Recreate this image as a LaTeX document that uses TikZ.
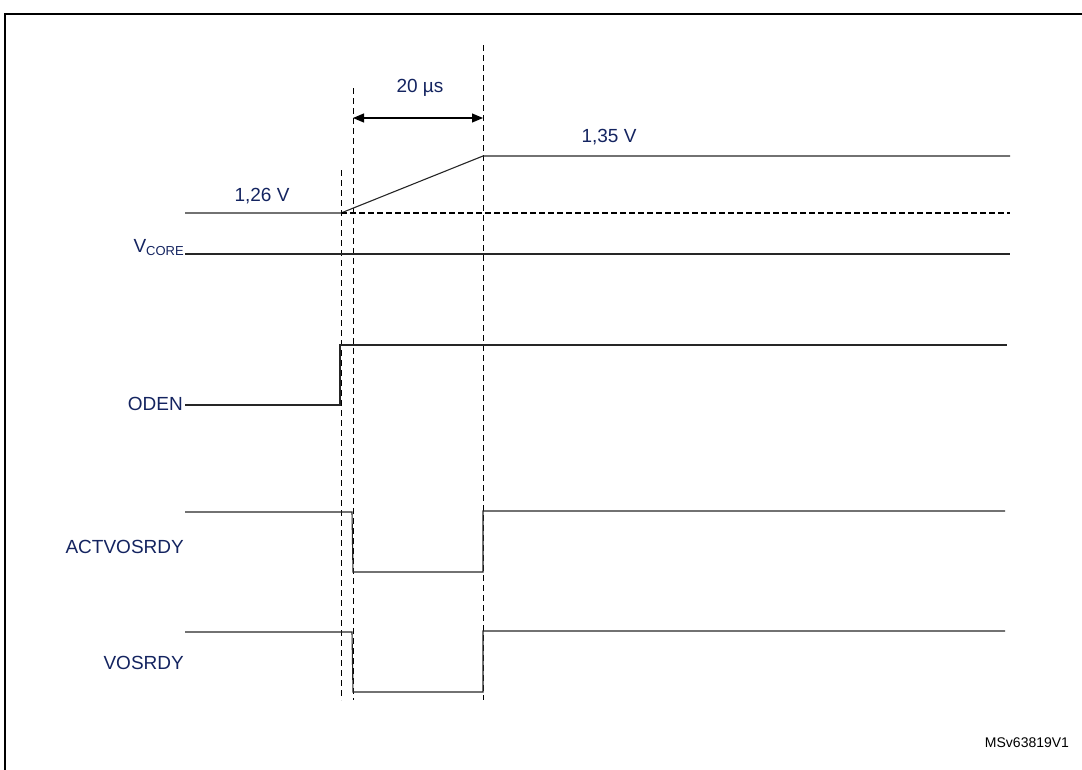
\documentclass[tikz,border=0pt]{standalone}
\usepackage{fontspec}
\setmainfont{Liberation Sans}
\usetikzlibrary{arrows.meta}
\definecolor{lbl}{RGB}{20,36,96}
\begin{document}
\begin{tikzpicture}[x=1pt,y=-1pt,
  sig/.style={line width=1.1pt,black!85},
  guide/.style={line width=0.9pt,dash pattern=on 6pt off 4pt},
  thickdash/.style={line width=1.8pt,dash pattern=on 6pt off 3pt},
  lab/.style={text=lbl,font=\fontsize{19}{21}\selectfont,inner sep=0pt},
  frame/.style={line width=2pt}]
\useasboundingbox (0,0) rectangle (1082,769);
% frame
\draw[frame] (5,780) -- (5,14) -- (1090,14);
% guide lines
\coordinate (g1t) at (341,170); \coordinate (g1b) at (341,700);
\coordinate (g2t) at (353,88);  \coordinate (g2b) at (353,700);
\coordinate (g3t) at (483,45);  \coordinate (g3b) at (483,700);
\draw[guide] (g1t) -- (g1b);
\draw[guide] (g2t) -- (g2b);
\draw[guide] (g3t) -- (g3b);
% 20 us arrow
\coordinate (a1) at (353,118); \coordinate (a2) at (483,118);
\draw[line width=1.1pt,{Triangle[length=11pt,width=9pt]}-{Triangle[length=11pt,width=9pt]}] (a1) -- (a2);
\node[lab] (t20) at (420,88) {20 µs};
% Vcore
\draw[sig] (185,213) -- (341,213) -- (483,156) -- (1010,156);
\draw[thickdash] (341,213) -- (1010,213);
\draw[sig] (185,254) -- (1010,254);
\node[lab] (v135) at (609,137) {1,35 V};
\node[lab] (v126) at (262,196) {1,26 V};
\node[lab,anchor=base east] (vcore) at (184,252) {V\raisebox{-0.3ex}{\fontsize{13}{14}\selectfont CORE}};
% ODEN
\draw[sig] (185,405) -- (340,405) -- (340,345) -- (1007,345);
\node[lab,anchor=east] (oden) at (183,404) {ODEN};
% ACTVOSRDY
\draw[sig] (185,512) -- (352,512) -- (353,572) -- (483,572) -- (483,511) -- (1005,511);
\node[lab,anchor=east] (actv) at (184,547) {ACTVOSRDY};
% VOSRDY
\draw[sig] (185,632) -- (352,632) -- (353,692) -- (483,692) -- (483,631) -- (1005,631);
\node[lab,anchor=east] (vos) at (184,663) {VOSRDY};
% id
\node[inner sep=0pt,font=\fontsize{14}{16}\selectfont] (id) at (1027,743) {MSv63819V1};
\end{tikzpicture}
\end{document}
